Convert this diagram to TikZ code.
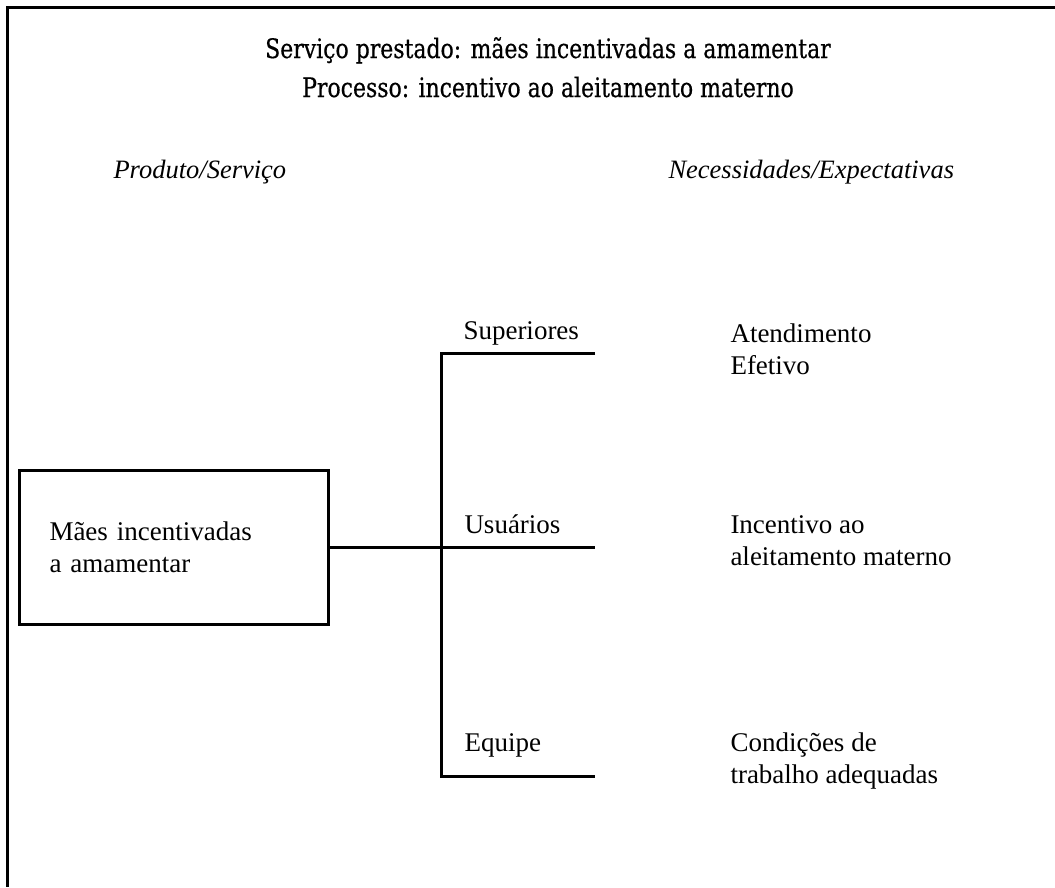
\documentclass[tikz,border=0pt]{standalone}
\usepackage{fontspec}
\setmainfont{Liberation Serif}
\newfontfamily\titlefont[FakeStretch=0.82,FakeBold=0.6]{DejaVu Serif}
\tikzset{
    auto,node distance =1.1 cm and 1.1 cm,
}

\begin{document}
\begin{tikzpicture}
            [x=1pt,y=-1pt,line width=3pt,
            every node/.style={inner sep=0pt,font=\fontsize{27}{32}\selectfont},
            titletext/.style={anchor=base,font=\titlefont\fontsize{26.8}{40}\selectfont},
            headtext/.style={anchor=base west,font=\itshape\fontsize{26.5}{32}\selectfont},
            whotext/.style={anchor=base west},
            needtext/.style={anchor=north west,align=left},
            mainbox/.style={draw,anchor=north west,align=left,text width=249pt,inner xsep=30pt,minimum width=309pt,minimum height=154pt}]
            \useasboundingbox (0,0) rectangle (1055,887);
            \draw (1055,7) -- (7,7) -- (7,887);
            \node(serv) [titletext] at (548,58) {Serviço prestado: mães incentivadas a amamentar};
            \node(proc) [titletext] at (548,97) {Processo: incentivo ao aleitamento materno};
            \node(prod) [headtext] at (112,178) {Produto/Serviço};
            \node(nec) [headtext] at (667,178) {Necessidades/Expectativas};
            \node(maes) [mainbox] at (18,469) {Mães incentivadas\\a amamentar};
            \coordinate (top) at (441,353);
            \coordinate (bot) at (441,776);
            \coordinate (hub) at (maes.east -| top);
            \coordinate (supend) at (595,353);
            \coordinate (usuend) at (hub -| supend);
            \coordinate (eqpend) at (595,776);
            \draw (maes.east) -- (hub) -- (usuend);
            \draw (supend) -- (top) -- (bot) -- (eqpend);
            \node(sup) [whotext] at (462,339) {Superiores};
            \node(usu) [whotext] at (463,533) {Usuários};
            \node(eqp) [whotext] at (463,751) {Equipe};
            \node(atend) [needtext] at (729,322) {Atendimento\\Efetivo};
            \node(incent) [needtext] at (729,514) {Incentivo ao\\aleitamento materno};
            \node(cond) [needtext] at (729,731) {Condições de\\trabalho adequadas};
\end{tikzpicture}
\end{document}
